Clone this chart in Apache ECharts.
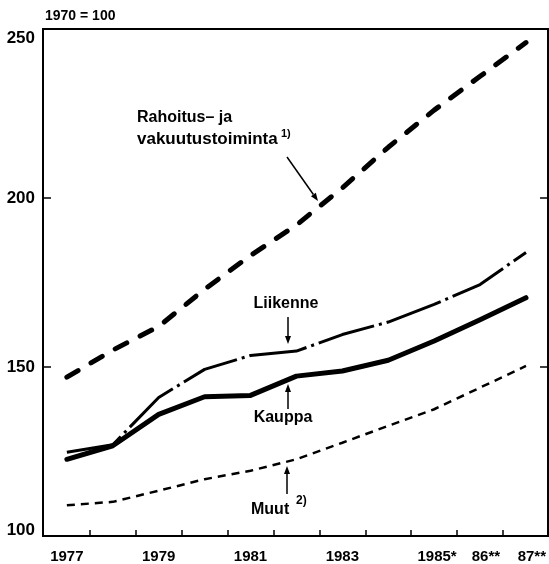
<!DOCTYPE html>
<html>
<head>
<meta charset="utf-8">
<script src="https://cdn.jsdelivr.net/npm/echarts@6.0.0/dist/echarts.min.js"></script>
<style>
  html, body { margin: 0; padding: 0; background: #fff; }
  #main { width: 549px; height: 564px; }
</style>
</head>
<body>
<div id="main"></div>
<script>
// index 1970 = 100
const years = [1977, 1978, 1979, 1980, 1981, 1982, 1983, 1984, 1985, 1986, 1987];
const rahoitus = [147, 155, 162, 173, 183, 192, 203, 215, 226, 236, 246];
const liikenne = [124.8, 127, 141, 149.3, 153.4, 154.7, 159.6, 163.3, 168.5, 174.4, 183.9];
const kauppa = [122.7, 126.7, 136, 141.2, 141.6, 147.3, 148.8, 152, 157.7, 164, 170.5];
const muut = [109.1, 110.1, 113.4, 116.8, 119.3, 122.7, 127.6, 132.6, 137.5, 143.9, 150.3];

const xLabelYears = [1977, 1979, 1981, 1983, 1985, 1986, 1987];
const xLabelMarks = ['', '', '', '', '*', '**', '**'];
const xTickYears = [1977.5, 1978.5, 1979.5, 1980.5, 1981.5, 1982.5, 1983.5, 1984.5, 1985.5, 1986.5];
const yTicks = [100, 150, 200, 250];

const FONT = '"Liberation Sans", Arial, sans-serif';

function pairs(vals) {
  return years.map((y, i) => [y, vals[i]]);
}

// arrow: shaft + filled head at (x2, y2)
function arrow(x1, y1, x2, y2) {
  const a = Math.atan2(y2 - y1, x2 - x1);
  const len = 8, half = 3;
  const bx = x2 - len * Math.cos(a), by = y2 - len * Math.sin(a);
  const px = -Math.sin(a) * half, py = Math.cos(a) * half;
  return [
    { type: 'line', shape: { x1: x1, y1: y1, x2: bx, y2: by }, style: { stroke: '#000', lineWidth: 1.5 }, z: 10 },
    { type: 'polygon', shape: { points: [[x2, y2], [bx + px, by + py], [bx - px, by - py]] }, style: { fill: '#000' }, z: 10 }
  ];
}

function label(text, x, y, size, align) {
  return {
    type: 'text', x: x, y: y, z: 10,
    style: { text: text, fill: '#000', font: 'bold ' + size + 'px ' + FONT, textAlign: align || 'left', textVerticalAlign: 'top' }
  };
}

const chart = echarts.init(document.getElementById('main'));

const option = {
  backgroundColor: '#fff',
  animation: false,
  grid: {
    left: 43, right: 0, top: 29, bottom: 26,
    show: true, borderColor: '#000', borderWidth: 2
  },
  xAxis: {
    type: 'value',
    min: 1976.48,
    max: 1987.48,
    splitLine: { show: false },
    axisLine: { show: true, lineStyle: { color: '#000', width: 2 } },
    axisTick: {
      show: true, inside: true, length: 6,
      customValues: xTickYears,
      lineStyle: { color: '#000', width: 1.5 }
    },
    axisLabel: {
      customValues: xLabelYears,
      margin: 13,
      color: '#000',
      fontSize: 15,
      fontWeight: 'bold',
      fontFamily: FONT,
      formatter: function (v) {
        const i = xLabelYears.indexOf(Math.round(v));
        const m = xLabelMarks[i] || '';
        const txt = i > 4 ? String(v).slice(2) : String(v);
        return m ? '{h|' + m + '}' + txt + m : txt;
      },
      rich: {
        h: { color: 'rgba(0,0,0,0)', fontSize: 15, fontWeight: 'bold', fontFamily: FONT }
      }
    }
  },
  yAxis: [{
    type: 'value',
    min: 100,
    max: 250,
    interval: 50,
    splitLine: { show: false },
    axisLine: { show: true, lineStyle: { color: '#000', width: 2 } },
    axisTick: { show: true, inside: true, length: 8, lineStyle: { color: '#000', width: 1.5 } },
    axisLabel: {
      margin: 8,
      color: '#000',
      fontSize: 17,
      fontWeight: 'bold',
      fontFamily: FONT,
      formatter: function (v) {
        if (v === yTicks[3]) return '{t|' + v + '}';
        if (v === yTicks[0]) return '{b|' + v + '}';
        return String(v);
      },
      rich: {
        t: { padding: [18, 0, 0, 0], fontSize: 17, fontWeight: 'bold', fontFamily: FONT, color: '#000' },
        b: { padding: [0, 0, 12, 0], fontSize: 17, fontWeight: 'bold', fontFamily: FONT, color: '#000' }
      }
    }
  }, {
    type: 'value',
    position: 'right',
    min: 100,
    max: 250,
    interval: 50,
    splitLine: { show: false },
    axisLine: { show: false },
    axisTick: { show: true, inside: true, length: 8, lineStyle: { color: '#000', width: 1.5 } },
    axisLabel: { show: false }
  }],
  series: [{
    name: 'Rahoitus- ja vakuutustoiminta',
    type: 'line',
    symbol: 'none',
    data: pairs(rahoitus),
    lineStyle: { color: '#000', width: 5, type: [13, 15], cap: 'round' }
  }, {
    name: 'Liikenne',
    type: 'line',
    symbol: 'none',
    data: pairs(liikenne),
    lineStyle: { color: '#000', width: 3, type: [58, 5, 3, 5], cap: 'butt' }
  }, {
    name: 'Kauppa',
    type: 'line',
    symbol: 'none',
    data: pairs(kauppa),
    lineStyle: { color: '#000', width: 5, cap: 'round', join: 'round' }
  }, {
    name: 'Muut',
    type: 'line',
    symbol: 'none',
    data: pairs(muut),
    lineStyle: { color: '#000', width: 2.5, type: [8, 6] }
  }],
  graphic: [
    label('1970 = 100', 45, 9, 14),
    label('Rahoitus– ja', 137, 110, 16),
    label('vakuutustoiminta', 137, 131, 17),
    label('1)', 281, 128, 11),
    ...arrow(287, 157, 318, 201),
    label('Liikenne', 286, 296, 16, 'center'),
    ...arrow(288, 317, 288, 344),
    ...arrow(288, 409, 288, 384),
    label('Kauppa', 283, 410, 16, 'center'),
    ...arrow(287, 494, 287, 466),
    label('Muut', 251, 502, 16),
    label('2)', 296, 495, 12)
  ]
};

chart.setOption(option);
</script>
</body>
</html>
